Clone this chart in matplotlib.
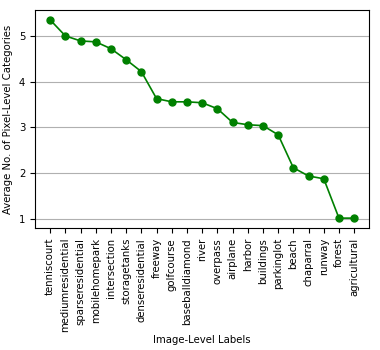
import matplotlib
matplotlib.use("Agg")
import matplotlib.pyplot as plt

labels = ['tenniscourt', 'mediumresidential', 'sparseresidential', 'mobilehomepark',
          'intersection', 'storagetanks', 'denseresidential', 'freeway', 'golfcourse',
          'baseballdiamond', 'river', 'overpass', 'airplane', 'harbor', 'buildings',
          'parkinglot', 'beach', 'chaparral', 'runway', 'forest', 'agricultural']
values = [5.35, 5.00, 4.89, 4.87, 4.72, 4.48, 4.22, 3.63, 3.56, 3.56, 3.54, 3.41,
          3.11, 3.06, 3.04, 2.84, 2.12, 1.94, 1.88, 1.02, 1.02]

plt.rcParams['font.size'] = 7.3

fig, ax = plt.subplots(figsize=(3.8, 3.5), dpi=100)
x = range(len(labels))
ax.plot(x, values, color='green', marker='o', markersize=5, linewidth=1.2)
ax.set_xticks(list(x))
ax.set_xticklabels(labels, rotation=90)
ax.set_yticks([1, 2, 3, 4, 5])
ax.set_ylim(0.8, 5.57)
ax.yaxis.grid(True, color='#b0b0b0')
ax.set_axisbelow(True)
ax.set_xlabel('Image-Level Labels', labelpad=2)
ax.set_ylabel('Average No. of Pixel-Level Categories')

plt.subplots_adjust(left=0.092, right=0.972, top=0.972, bottom=0.348)
plt.savefig('out.png')
